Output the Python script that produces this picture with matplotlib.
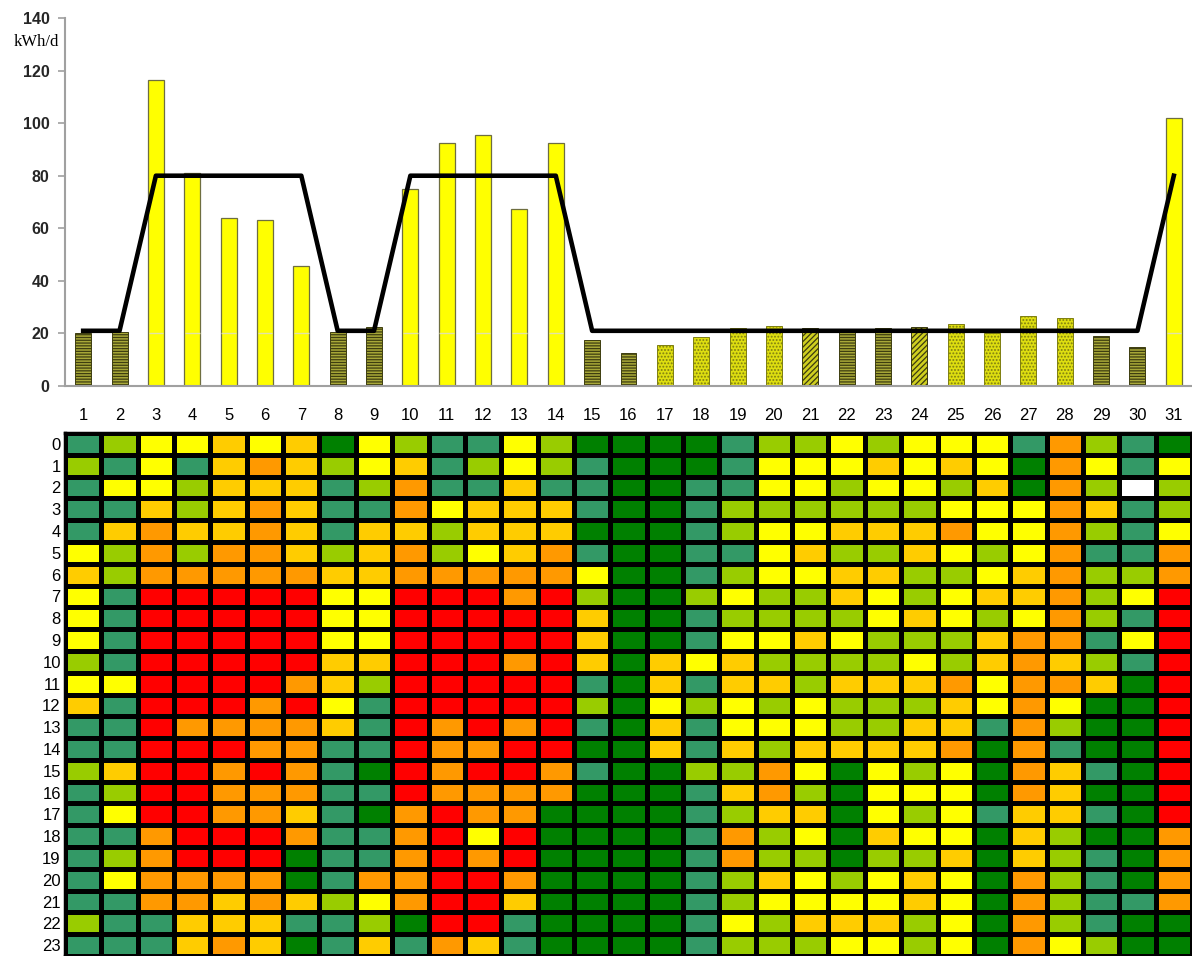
import numpy as np
import matplotlib.pyplot as plt
from matplotlib.colors import ListedColormap
from matplotlib.transforms import ScaledTranslation

# daily consumption (kWh/d) and the reference profile line
days = list(range(1, 32))
kwh = [20, 20.5, 116.5, 81, 64, 63, 45.5, 20.5, 22.5, 75, 92.5, 95.5, 67.5, 92.5,
       17.5, 12.5, 15.5, 18.5, 22, 23, 22, 21, 22, 22.5, 23.5, 20, 26.5, 26, 19, 15, 102]
profile = [21, 21, 80, 80, 80, 80, 80, 21, 21, 80, 80, 80, 80, 80,
           21, 21, 21, 21, 21, 21, 21, 21, 21, 21, 21, 21, 21, 21, 21, 21, 80]
day_type = ['we', 'we', 'hi', 'hi', 'hi', 'hi', 'hi', 'we', 'we', 'hi', 'hi', 'hi', 'hi', 'hi',
            'we', 'we', 'dot', 'dot', 'dot', 'dot', 'diag', 'we', 'we', 'diag', 'dot', 'dot',
            'dot', 'dot', 'we', 'we', 'hi']
base_load = 20

# hourly heat map, one string per hour, one letter per day
hours = list(range(24))
hour_rows = [
    "TGYYAYADYGTTYGDDDDTGGYGYYYTOGTD",
    "GTYTAOAGYATGYGTDDDTYYYAYAYDOYTY",
    "TYYGAAATGOTTATTDDTTYYGYYGADOGWG",
    "TTAGAOATTOYAAATDDTGGGGGGYYYOATG",
    "TAOAAOATAAGAAADDDTGYYAAAOYYOGTY",
    "YGOGOOAGAOGYAOTDDTTYAGGAYGYOTTO",
    "AGOOOOOAAOOOOOYDDTGYYAAGGYAOGGO",
    "YTRRRRRYYRRRORGDDGYGGAYGYAAOGYR",
    "YTRRRRRYYRRRRRADDTGGGGYAYGYOGTR",
    "YTRRRRRYYRRRRRADDTYYAYGGGAOOTYR",
    "GTRRRRRAARRRORADAYAGGGGYGAOAGTR",
    "YYRRRROAGRRRRRTDATAAGAAAOYOOADR",
    "ATRRRORYTRRRRRGDYGYGYGGGAYOYDDR",
    "TTROOOOATRORORTDATYYYGGAATOGDDR",
    "TTRRROOTTROORRDDATAGAAAAODOTDDR",
    "GARROROTDRORROTDDGGOYDYGYDOATDR",
    "TGRROOOTTROOOODDDTAOGDYYYDOADDR",
    "TYRROOATDOROODDDDTGAADYGYTAATDR",
    "TTORRROTTORYRDDDDTOGYDAYYDAGDDO",
    "TGORRRDTTORORDDDDTOGGDGGADAGTDO",
    "TYOOOODTOORRODDDDTGAYGYAYDOGTDO",
    "TTOOAOAGYORRADDDDTGYYYYAYDOGTTO",
    "GTTAAATTGDRRTDDDDTYGAAAGYDOGTDD",
    "TTTAOADTATOATDDDDTGGGYYGYDOYGDD",
]
level_keys = "DTGYAORW"
level_colors = ['#008000', '#339966', '#99CC00', '#FFFF00', '#FFCC00', '#FF9900', '#FF0000', '#FFFFFF']

codes = np.array([[level_keys.index(c) for c in row] for row in hour_rows])

fig = plt.figure(figsize=(11.92, 9.56), dpi=100)

# ---- bar chart ----
ax1 = fig.add_axes([65/1192, (956-386)/956, 1127/1192, 368/956])

bar_w = 0.44
styles = {
    'we': dict(color='#A8A838', edgecolor='#3E3E10', hatch='------'),
    'dot': dict(color='#DEDE10', edgecolor='#7E7E10', hatch='.....'),
    'diag': dict(color='#CFCF20', edgecolor='#3A3A10', hatch='//////'),
}
plt.rcParams['hatch.linewidth'] = 0.9
hi_days = []
for d, v, t in zip(days, kwh, day_type):
    if t == 'hi':
        ax1.bar(d, v, width=bar_w, color='#FFFF00', edgecolor='#6E6E40', linewidth=0.9, zorder=2)
        hi_days.append(d)
    else:
        ax1.bar(d, v, width=bar_w, linewidth=0.7, zorder=2, **styles[t])
hi_days = np.array(hi_days)
# faint seam where the base load ends inside the tall bars
ax1.hlines([base_load] * len(hi_days), hi_days - bar_w / 2 + 0.02, hi_days + bar_w / 2 - 0.02,
           color='#E2E2A8', linewidth=1.0, zorder=2.5)

ax1.plot(days, profile, color='black', linewidth=3.3, zorder=3)

ax1.set_xlim(0.5, 31.5)
ax1.set_ylim(0, 140)
ax1.set_yticks(range(0, 141, 20))
ax1.set_xticks(days)
ax1.set_xticklabels([str(d) for d in days], fontsize=12, family='Liberation Sans')
for lab in ax1.get_xticklabels():
    lab.set_transform(lab.get_transform() + ScaledTranslation(5/100, 0, fig.dpi_scale_trans))
ax1.tick_params(axis='x', length=0, pad=16)
ax1.tick_params(axis='y', length=5, width=1.2, color='#A0A0A0', pad=6)
for lab in ax1.get_yticklabels():
    lab.set_fontweight('bold')
    lab.set_fontsize(11.5)
    lab.set_family('Liberation Sans')
    lab.set_color('#262626')
for s in ['top', 'right']:
    ax1.spines[s].set_visible(False)
for s in ['left', 'bottom']:
    ax1.spines[s].set_color('#A0A0A0')
    ax1.spines[s].set_linewidth(1.5)
fig.text(36/1192, 1 - 42/956, 'kWh/d', ha='center', va='center',
         fontsize=12, family='Liberation Serif')

# ---- heat map ----
ax2 = fig.add_axes([65/1192, 0, 1127/1192, 523/956])
cmap = ListedColormap(level_colors)
ax2.pcolormesh(np.arange(0.5, 32), np.arange(-0.5, 24), codes, cmap=cmap,
               vmin=-0.5, vmax=7.5, edgecolors='black', linewidth=2.4)
ax2.set_xlim(0.5, 31.5)
ax2.set_ylim(23.5, -0.5)
ax2.set_xticks([])
ax2.set_yticks(hours)
ax2.set_yticklabels([str(h) for h in hours], fontsize=12, family='Liberation Sans')
ax2.tick_params(axis='y', length=0, pad=3)
for s in ax2.spines.values():
    s.set_color('black')
    s.set_linewidth(2.5)

fig.savefig('out.png', dpi=100)
